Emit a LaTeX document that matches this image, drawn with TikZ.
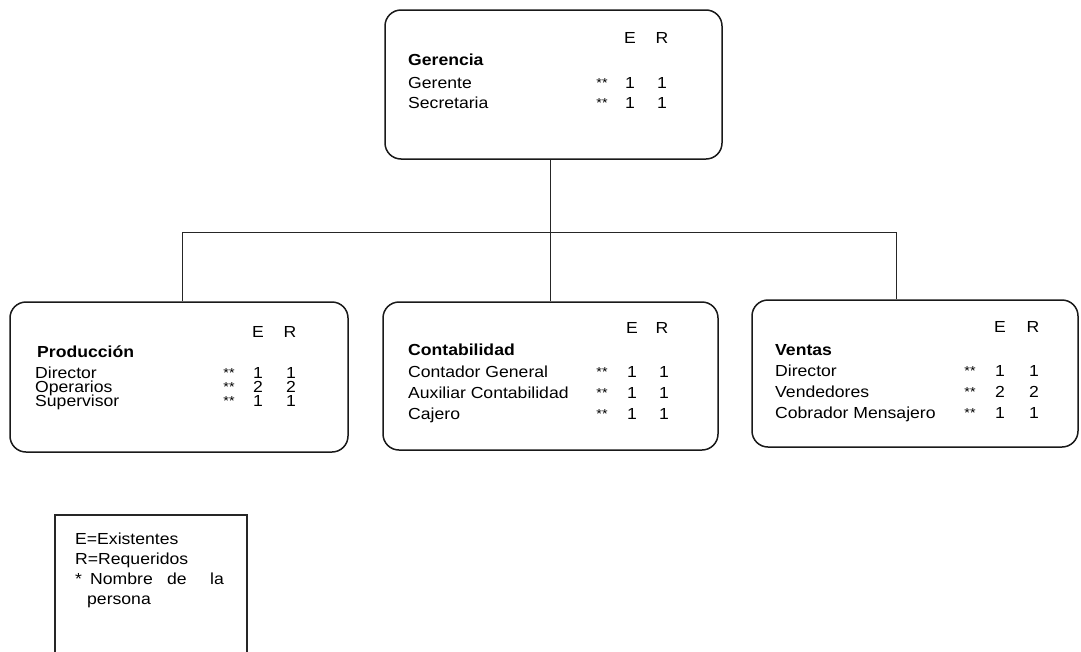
\documentclass[tikz,border=0pt]{standalone}
\usepackage{fontspec}
\setmainfont{Liberation Sans}[FakeStretch=1.1]
\begin{document}
\begin{tikzpicture}[x=1pt,y=-1pt,
  unitbox/.style={draw=black!90,line width=1.5pt,rounded corners=16pt,inner sep=0pt},
  link/.style={draw=black!85,line width=0.9pt},
  txt/.style={anchor=base west,inner sep=0pt,font=\fontsize{16}{19}\selectfont},
  head/.style={txt,font=\fontsize{16}{19}\selectfont\bfseries},
  num/.style={anchor=base,inner sep=0pt,font=\fontsize{16}{19}\selectfont},
  stars/.style={anchor=base,inner sep=0pt,font=\fontsize{13}{15}\selectfont}]
\useasboundingbox[fill=white] (0,0) rectangle (1081,651);

% ---- boxes ----
\node[unitbox,minimum width=337pt,minimum height=149pt] (ger) at (553.5,84.5) {};
\node[unitbox,minimum width=338pt,minimum height=150pt] (prod) at (179,377) {};
\node[unitbox,minimum width=335pt,minimum height=148pt] (cont) at (550.5,376) {};
\node[unitbox,minimum width=326pt,minimum height=147pt] (vent) at (915,373.5) {};

% ---- connectors ----
\coordinate (jC) at (550,232);
\coordinate (jL) at (182,232);
\coordinate (jR) at (896,232);
\draw[link] (ger.south -| jC) -- (jC);
\draw[link] (jL) -- (jR);
\draw[link] (jL) -- (prod.north -| jL);
\draw[link] (jC) -- (cont.north -| jC);
\draw[link] (jR) -- (vent.north -| jR);

% ---- Gerencia ----
\node[num] (gE) at (630,43) {E};
\node[num] (gR) at (662,43) {R};
\node[head] (gT) at (408,65) {Gerencia};
\node[txt] (g1) at (408,88) {Gerente};
\node[stars] (g1s) at (602,87) {**};
\node[num] (g1e) at (630,88) {1};
\node[num] (g1r) at (662,88) {1};
\node[txt] (g2) at (408,108) {Secretaria};
\node[stars] (g2s) at (602,107) {**};
\node[num] (g2e) at (630,108) {1};
\node[num] (g2r) at (662,108) {1};

% ---- Produccion ----
\node[num] (pE) at (258,337) {E};
\node[num] (pR) at (290,337) {R};
\node[head] (pT) at (37,357) {Producción};
\node[txt] (p1) at (35,378) {Director};
\node[stars] (p1s) at (229,377) {**};
\node[num] (p1e) at (258,378) {1};
\node[num] (p1r) at (291,378) {1};
\node[txt] (p2) at (35,392) {Operarios};
\node[stars] (p2s) at (229,391) {**};
\node[num] (p2e) at (258,392) {2};
\node[num] (p2r) at (291,392) {2};
\node[txt] (p3) at (35,406) {Supervisor};
\node[stars] (p3s) at (229,405) {**};
\node[num] (p3e) at (258,406) {1};
\node[num] (p3r) at (291,406) {1};

% ---- Contabilidad ----
\node[num] (cE) at (632,333) {E};
\node[num] (cR) at (662,333) {R};
\node[head] (cT) at (408,355) {Contabilidad};
\node[txt] (c1) at (408,377) {Contador General};
\node[stars] (c1s) at (602,376) {**};
\node[num] (c1e) at (632,377) {1};
\node[num] (c1r) at (664,377) {1};
\node[txt] (c2) at (408,398) {Auxiliar Contabilidad};
\node[stars] (c2s) at (602,397) {**};
\node[num] (c2e) at (632,398) {1};
\node[num] (c2r) at (664,398) {1};
\node[txt] (c3) at (408,419) {Cajero};
\node[stars] (c3s) at (602,418) {**};
\node[num] (c3e) at (632,419) {1};
\node[num] (c3r) at (664,419) {1};

% ---- Ventas ----
\node[num] (vE) at (1000,332) {E};
\node[num] (vR) at (1033,332) {R};
\node[head] (vT) at (775,355) {Ventas};
\node[txt] (v1) at (775,376) {Director};
\node[stars] (v1s) at (970,375) {**};
\node[num] (v1e) at (1000,376) {1};
\node[num] (v1r) at (1034,376) {1};
\node[txt] (v2) at (775,397) {Vendedores};
\node[stars] (v2s) at (970,396) {**};
\node[num] (v2e) at (1000,397) {2};
\node[num] (v2r) at (1034,397) {2};
\node[txt] (v3) at (775,418) {Cobrador Mensajero};
\node[stars] (v3s) at (970,417) {**};
\node[num] (v3e) at (1000,418) {1};
\node[num] (v3r) at (1034,418) {1};

% ---- legend (runs off the lower edge) ----
\draw[draw=black!85,line width=1.2pt] (55,652) -- (55,515) -- (247,515) -- (247,652);
\node[txt] (l1) at (75,544) {E=Existentes};
\node[txt] (l2) at (75,564) {R=Requeridos};
\node[txt] (l3) at (75,584) {*};
\node[txt] (l3a) at (90,584) {Nombre};
\node[txt] (l3b) at (167,584) {de};
\node[txt] (l3c) at (210,584) {la};
\node[txt] (l4) at (87,604) {persona};
\end{tikzpicture}
\end{document}
